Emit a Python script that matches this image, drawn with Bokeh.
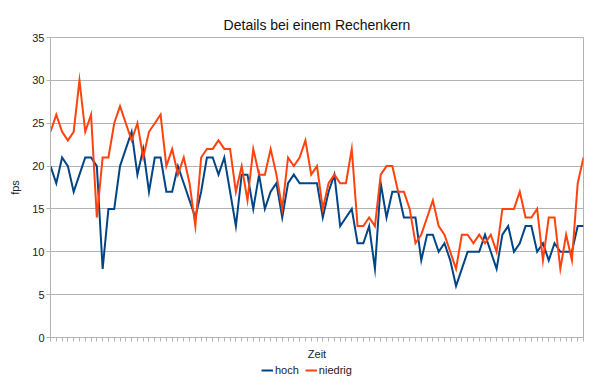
from bokeh.plotting import figure
from bokeh.layouts import column
from bokeh.models import Range1d, FixedTicker, Legend, LegendItem
from bokeh.embed import file_html
from bokeh.resources import INLINE

title_text = "Details bei einem Rechenkern"
x_label = "Zeit"
y_label = "fps"
series_names = ["hoch", "niedrig"]
series_colors = ["#004586", "#ff420e"]

niedrig = [24, 26, 24, 23, 24, 30, 24, 26, 14, 21, 21, 25, 27, 25, 23, 25, 21, 24, 25, 26,
           20, 22, 19, 21, 18, 13, 21, 22, 22, 23, 22, 22, 17, 20, 16, 22, 19, 19, 22,
           19, 15, 21, 20, 21, 23, 19, 20, 15, 18, 19, 18, 18, 22, 13, 13, 14, 13, 19,
           20, 20, 17, 17, 15, 11, 12, 14, 16, 13, 12, 10, 8, 12, 12, 11, 12, 11, 12,
           10, 15, 15, 15, 17, 14, 14, 15, 9, 14, 14, 8, 12, 9, 18, 21]

hoch = [20, 18, 21, 20, 17, 19, 21, 21, 20, 8, 15, 15, 20, 22, 24, 19, 22, 17, 21, 21,
        17, 17, 20, 18, 16, 14, 17, 21, 21, 19, 21, 17, 13, 19, 19, 15, 19, 15, 17,
        18, 14, 18, 19, 18, 18, 18, 18, 14, 17, 19, 13, 14, 15, 11, 11, 13, 8, 18,
        14, 17, 17, 14, 14, 14, 9, 12, 12, 10, 11, 9, 6, 8, 10, 10, 10, 12, 10,
        8, 12, 13, 10, 11, 13, 13, 10, 11, 9, 11, 10, 10, 10, 13, 13]

zeit = list(range(1, len(hoch) + 1))
y_ticks = [0, 5, 10, 15, 20, 25, 30, 35]
series_values = [hoch, niedrig]

FONT = "Liberation Sans"
GRID = "#b3b3b3"
TEXT = "#222222"

p = figure(width=584, height=364,
           min_border_left=50, min_border_right=1, min_border_top=37, min_border_bottom=27,
           x_range=Range1d(zeit[0], zeit[-1]), y_range=Range1d(y_ticks[0], y_ticks[-1]),
           output_backend="svg", toolbar_location=None, title=title_text)

p.title.align = "center"
p.title.text_font = FONT
p.title.text_font_size = "14px"
p.title.text_font_style = "normal"
p.title.text_color = "#111111"

p.outline_line_color = GRID
p.background_fill_color = "white"
p.border_fill_color = "white"

p.xgrid.visible = False
p.ygrid.grid_line_color = GRID
p.ygrid.ticker = FixedTicker(ticks=y_ticks)

p.yaxis.ticker = FixedTicker(ticks=y_ticks)
p.yaxis.axis_line_color = GRID
p.yaxis.major_tick_line_color = GRID
p.yaxis.major_tick_out = 4
p.yaxis.major_tick_in = 0
p.yaxis.minor_tick_line_color = None
p.yaxis.major_label_standoff = 2
p.yaxis.major_label_text_font = FONT
p.yaxis.major_label_text_font_size = "11px"
p.yaxis.major_label_text_color = TEXT
p.yaxis.axis_label = y_label
p.yaxis.axis_label_text_font = FONT
p.yaxis.axis_label_text_font_size = "11px"
p.yaxis.axis_label_text_font_style = "normal"
p.yaxis.axis_label_text_color = TEXT
p.yaxis.axis_label_standoff = 8

# no labelled ticks on x: one small (minor) tick per time step
p.xaxis.ticker = FixedTicker(ticks=[], minor_ticks=zeit)
p.xaxis.axis_line_color = GRID
p.xaxis.major_tick_line_color = None
p.xaxis.major_tick_out = 4
p.xaxis.major_tick_in = 0
p.xaxis.minor_tick_line_color = GRID
p.xaxis.minor_tick_out = 4
p.xaxis.minor_tick_in = 0
p.xaxis.major_label_standoff = 4
p.xaxis.axis_label = x_label
p.xaxis.axis_label_text_font = FONT
p.xaxis.axis_label_text_font_size = "11px"
p.xaxis.axis_label_text_font_style = "normal"
p.xaxis.axis_label_text_color = TEXT
p.xaxis.axis_label_standoff = 6

for vals, c in zip(series_values, series_colors):
    p.line(zeit, vals, line_color=c, line_width=2, line_join="miter")

# legend strip below the chart (a legend inside the chart's frame would be clipped);
# its key lines carry the same series, which lie outside this strip's view
lg = figure(width=584, height=12, min_border=0, toolbar_location=None,
            x_axis_location=None, y_axis_location=None, output_backend="svg",
            x_range=Range1d(0, 1), y_range=Range1d(0, 1))
lg.outline_line_color = None
lg.grid.visible = False
lg.border_fill_color = "white"
lg.background_fill_color = "white"
keys = [lg.line(zeit, vals, line_color=c, line_width=2)
        for vals, c in zip(series_values, series_colors)]

legend = Legend(items=[LegendItem(label=n, renderers=[r]) for n, r in zip(series_names, keys)],
                location=(211, 0), orientation="horizontal",
                label_text_font=FONT, label_text_font_size="11px", label_text_color=TEXT,
                glyph_width=12, glyph_height=10, label_height=12, label_standoff=2, spacing=6,
                padding=0, margin=0, border_line_color=None, background_fill_alpha=0)
lg.add_layout(legend, "center")

layout = column(p, lg, spacing=0)
open("out.html", "w").write(file_html(layout, INLINE))
